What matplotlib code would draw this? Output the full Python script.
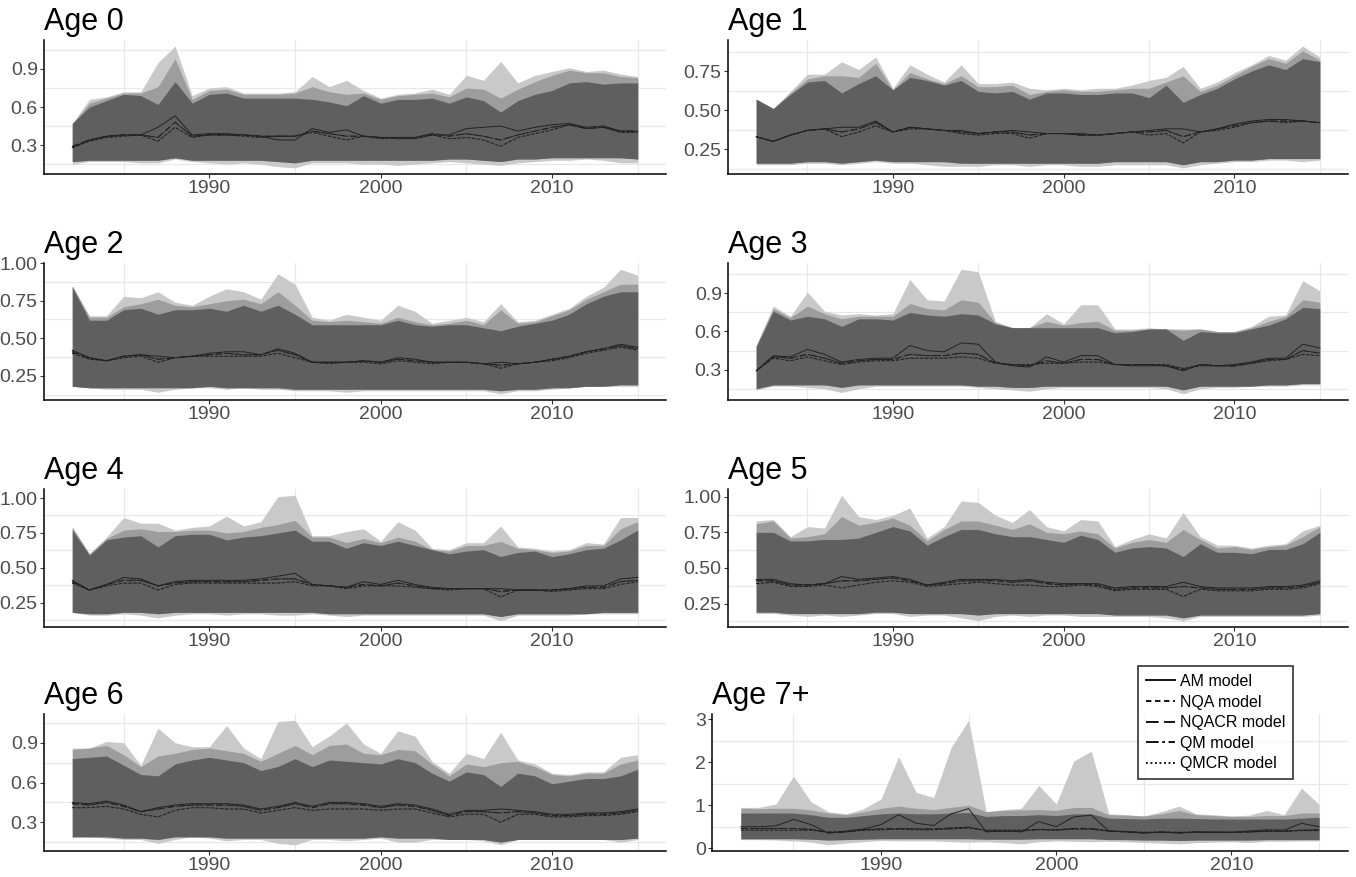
import numpy as np
import matplotlib
matplotlib.use("Agg")
import matplotlib.pyplot as plt
from matplotlib.ticker import FixedLocator, FormatStrFormatter
from matplotlib.lines import Line2D

plt.rcParams['font.family'] = ['Liberation Sans', 'DejaVu Sans']

years = np.arange(1982, 2016)
models = ['AM model', 'NQA model', 'NQACR model', 'QM model', 'QMCR model']
styles = ['-', (0, (3, 2)), (0, (7, 3)), (0, (7, 2, 1.5, 2)), (0, (1, 1.5))]
# which estimated line each model uses
line_src = ['AM', 'NQA', 'QM', 'QM', 'NQA']

# ---- Age 0 ----
age0_hi_light = [0.47, 0.66, 0.68, 0.72, 0.72, 0.95, 1.08, 0.69, 0.75, 0.76, 0.71, 0.71, 0.71, 0.72, 0.84, 0.76, 0.81, 0.73, 0.67, 0.70, 0.71, 0.74, 0.70, 0.85, 0.81, 0.96, 0.79, 0.85, 0.88, 0.91, 0.88, 0.89, 0.86, 0.84]
age0_hi_mid = [0.47, 0.63, 0.67, 0.71, 0.71, 0.76, 0.98, 0.66, 0.73, 0.74, 0.70, 0.70, 0.70, 0.71, 0.76, 0.72, 0.70, 0.71, 0.66, 0.69, 0.70, 0.71, 0.68, 0.75, 0.74, 0.67, 0.74, 0.80, 0.85, 0.89, 0.87, 0.87, 0.84, 0.83]
age0_hi_dark = [0.47, 0.60, 0.65, 0.70, 0.69, 0.62, 0.80, 0.63, 0.70, 0.71, 0.67, 0.67, 0.67, 0.67, 0.66, 0.64, 0.61, 0.69, 0.63, 0.66, 0.66, 0.67, 0.63, 0.68, 0.65, 0.56, 0.65, 0.70, 0.73, 0.79, 0.80, 0.78, 0.79, 0.79]
age0_lo_dark = [0.17, 0.18, 0.18, 0.18, 0.18, 0.18, 0.20, 0.18, 0.18, 0.18, 0.18, 0.18, 0.17, 0.16, 0.18, 0.18, 0.18, 0.18, 0.18, 0.18, 0.18, 0.18, 0.19, 0.19, 0.18, 0.17, 0.19, 0.19, 0.20, 0.20, 0.20, 0.20, 0.20, 0.19]
age0_lo_light = [0.15, 0.17, 0.17, 0.17, 0.16, 0.16, 0.19, 0.17, 0.16, 0.15, 0.16, 0.15, 0.13, 0.12, 0.16, 0.16, 0.16, 0.15, 0.15, 0.14, 0.15, 0.16, 0.17, 0.16, 0.15, 0.14, 0.16, 0.17, 0.18, 0.18, 0.19, 0.18, 0.16, 0.16]
age0_AM = [0.28, 0.34, 0.37, 0.38, 0.38, 0.44, 0.53, 0.38, 0.39, 0.39, 0.38, 0.37, 0.34, 0.34, 0.43, 0.40, 0.42, 0.37, 0.36, 0.35, 0.35, 0.38, 0.38, 0.43, 0.44, 0.45, 0.41, 0.44, 0.46, 0.47, 0.44, 0.45, 0.41, 0.41]
age0_NQA = [0.28, 0.33, 0.36, 0.37, 0.38, 0.33, 0.44, 0.36, 0.38, 0.38, 0.37, 0.36, 0.37, 0.37, 0.40, 0.37, 0.34, 0.37, 0.35, 0.36, 0.36, 0.38, 0.35, 0.36, 0.34, 0.29, 0.36, 0.39, 0.42, 0.46, 0.43, 0.44, 0.40, 0.40]
age0_QM = [0.29, 0.34, 0.37, 0.38, 0.38, 0.36, 0.48, 0.37, 0.38, 0.38, 0.38, 0.37, 0.37, 0.37, 0.41, 0.39, 0.37, 0.37, 0.36, 0.36, 0.36, 0.39, 0.37, 0.39, 0.37, 0.34, 0.38, 0.41, 0.44, 0.46, 0.43, 0.44, 0.41, 0.41]

# ---- Age 1 ----
age1_hi_light = [0.57, 0.51, 0.62, 0.73, 0.73, 0.81, 0.76, 0.84, 0.64, 0.79, 0.73, 0.68, 0.79, 0.67, 0.67, 0.68, 0.64, 0.63, 0.64, 0.63, 0.64, 0.64, 0.66, 0.69, 0.71, 0.78, 0.64, 0.68, 0.74, 0.79, 0.85, 0.82, 0.91, 0.84]
age1_hi_mid = [0.57, 0.51, 0.61, 0.70, 0.72, 0.72, 0.71, 0.80, 0.63, 0.74, 0.70, 0.67, 0.72, 0.65, 0.65, 0.66, 0.60, 0.62, 0.63, 0.62, 0.62, 0.63, 0.64, 0.64, 0.68, 0.72, 0.62, 0.66, 0.72, 0.78, 0.83, 0.80, 0.88, 0.82]
age1_hi_dark = [0.57, 0.51, 0.60, 0.68, 0.69, 0.61, 0.67, 0.72, 0.63, 0.71, 0.69, 0.66, 0.69, 0.62, 0.61, 0.62, 0.57, 0.61, 0.61, 0.60, 0.60, 0.61, 0.61, 0.58, 0.66, 0.55, 0.60, 0.64, 0.70, 0.75, 0.79, 0.76, 0.83, 0.81]
age1_lo_dark = [0.16, 0.16, 0.16, 0.17, 0.17, 0.16, 0.17, 0.18, 0.17, 0.17, 0.17, 0.17, 0.16, 0.16, 0.16, 0.16, 0.16, 0.16, 0.16, 0.16, 0.16, 0.17, 0.17, 0.17, 0.17, 0.15, 0.17, 0.17, 0.18, 0.18, 0.19, 0.19, 0.19, 0.19]
age1_lo_light = [0.15, 0.15, 0.15, 0.16, 0.16, 0.15, 0.16, 0.17, 0.16, 0.16, 0.15, 0.14, 0.14, 0.14, 0.15, 0.15, 0.14, 0.15, 0.15, 0.14, 0.14, 0.15, 0.15, 0.15, 0.15, 0.13, 0.15, 0.16, 0.17, 0.17, 0.18, 0.18, 0.17, 0.18]
age1_AM = [0.33, 0.30, 0.34, 0.37, 0.38, 0.39, 0.39, 0.43, 0.36, 0.39, 0.38, 0.37, 0.37, 0.35, 0.36, 0.37, 0.36, 0.35, 0.35, 0.35, 0.34, 0.35, 0.36, 0.37, 0.38, 0.38, 0.36, 0.38, 0.41, 0.43, 0.44, 0.44, 0.43, 0.42]
age1_NQA = [0.33, 0.30, 0.34, 0.37, 0.38, 0.33, 0.36, 0.40, 0.36, 0.38, 0.38, 0.37, 0.35, 0.34, 0.35, 0.35, 0.32, 0.35, 0.35, 0.34, 0.34, 0.35, 0.36, 0.34, 0.35, 0.29, 0.36, 0.37, 0.39, 0.42, 0.43, 0.42, 0.43, 0.42]
age1_QM = [0.33, 0.30, 0.34, 0.37, 0.38, 0.36, 0.38, 0.42, 0.36, 0.39, 0.38, 0.37, 0.36, 0.35, 0.36, 0.36, 0.34, 0.35, 0.35, 0.34, 0.34, 0.35, 0.36, 0.36, 0.37, 0.33, 0.36, 0.38, 0.40, 0.42, 0.43, 0.43, 0.43, 0.42]

# ---- Age 2 ----
age2_hi_light = [0.85, 0.65, 0.65, 0.78, 0.77, 0.81, 0.74, 0.72, 0.78, 0.83, 0.81, 0.76, 0.93, 0.86, 0.64, 0.62, 0.66, 0.64, 0.62, 0.72, 0.68, 0.60, 0.62, 0.64, 0.61, 0.73, 0.61, 0.62, 0.66, 0.70, 0.78, 0.84, 0.96, 0.92]
age2_hi_mid = [0.85, 0.64, 0.64, 0.71, 0.73, 0.76, 0.72, 0.71, 0.73, 0.75, 0.76, 0.73, 0.81, 0.72, 0.62, 0.61, 0.62, 0.61, 0.60, 0.64, 0.61, 0.59, 0.60, 0.62, 0.59, 0.69, 0.60, 0.61, 0.65, 0.69, 0.76, 0.81, 0.86, 0.86]
age2_hi_dark = [0.84, 0.62, 0.62, 0.69, 0.70, 0.66, 0.69, 0.69, 0.70, 0.68, 0.72, 0.68, 0.72, 0.66, 0.59, 0.59, 0.59, 0.59, 0.59, 0.62, 0.59, 0.58, 0.59, 0.59, 0.57, 0.55, 0.58, 0.60, 0.62, 0.66, 0.73, 0.78, 0.81, 0.81]
age2_lo_dark = [0.18, 0.17, 0.17, 0.17, 0.17, 0.17, 0.17, 0.17, 0.18, 0.17, 0.17, 0.17, 0.17, 0.16, 0.16, 0.16, 0.16, 0.16, 0.16, 0.16, 0.16, 0.16, 0.16, 0.16, 0.16, 0.15, 0.16, 0.16, 0.17, 0.17, 0.18, 0.18, 0.19, 0.19]
age2_lo_light = [0.18, 0.17, 0.16, 0.16, 0.16, 0.14, 0.16, 0.17, 0.17, 0.16, 0.17, 0.16, 0.16, 0.15, 0.15, 0.15, 0.14, 0.15, 0.15, 0.15, 0.15, 0.15, 0.15, 0.15, 0.15, 0.13, 0.15, 0.15, 0.16, 0.17, 0.18, 0.18, 0.18, 0.18]
age2_AM = [0.42, 0.37, 0.35, 0.38, 0.39, 0.38, 0.37, 0.38, 0.40, 0.41, 0.41, 0.39, 0.43, 0.40, 0.34, 0.34, 0.34, 0.35, 0.34, 0.37, 0.36, 0.34, 0.34, 0.34, 0.33, 0.34, 0.33, 0.34, 0.36, 0.38, 0.41, 0.43, 0.46, 0.44]
age2_NQA = [0.40, 0.36, 0.35, 0.37, 0.38, 0.34, 0.37, 0.38, 0.38, 0.38, 0.38, 0.38, 0.40, 0.37, 0.34, 0.33, 0.34, 0.34, 0.33, 0.35, 0.34, 0.33, 0.34, 0.34, 0.33, 0.30, 0.33, 0.34, 0.35, 0.37, 0.40, 0.42, 0.44, 0.42]
age2_QM = [0.41, 0.37, 0.35, 0.38, 0.39, 0.36, 0.37, 0.38, 0.39, 0.40, 0.39, 0.39, 0.42, 0.39, 0.34, 0.34, 0.34, 0.35, 0.34, 0.36, 0.35, 0.34, 0.34, 0.34, 0.33, 0.32, 0.33, 0.34, 0.36, 0.38, 0.41, 0.43, 0.45, 0.43]

# ---- Age 3 ----
age3_hi_light = [0.49, 0.80, 0.72, 0.91, 0.76, 0.73, 0.74, 0.73, 0.74, 1.01, 0.85, 0.84, 1.09, 1.07, 0.68, 0.63, 0.63, 0.74, 0.66, 0.81, 0.81, 0.62, 0.62, 0.63, 0.62, 0.62, 0.62, 0.60, 0.60, 0.64, 0.72, 0.73, 1.00, 0.92]
age3_hi_mid = [0.49, 0.78, 0.71, 0.80, 0.74, 0.70, 0.72, 0.72, 0.72, 0.82, 0.78, 0.77, 0.85, 0.83, 0.67, 0.63, 0.63, 0.68, 0.65, 0.67, 0.68, 0.61, 0.61, 0.62, 0.62, 0.61, 0.62, 0.60, 0.60, 0.63, 0.68, 0.72, 0.85, 0.83]
age3_hi_dark = [0.48, 0.76, 0.69, 0.72, 0.70, 0.64, 0.70, 0.70, 0.69, 0.75, 0.73, 0.72, 0.74, 0.73, 0.66, 0.63, 0.63, 0.63, 0.63, 0.63, 0.63, 0.59, 0.60, 0.62, 0.62, 0.53, 0.60, 0.59, 0.59, 0.62, 0.65, 0.70, 0.79, 0.78]
age3_lo_dark = [0.15, 0.18, 0.18, 0.18, 0.18, 0.16, 0.18, 0.18, 0.18, 0.18, 0.18, 0.18, 0.18, 0.17, 0.17, 0.16, 0.16, 0.17, 0.17, 0.17, 0.17, 0.17, 0.17, 0.17, 0.17, 0.14, 0.17, 0.17, 0.17, 0.17, 0.18, 0.18, 0.19, 0.19]
age3_lo_light = [0.14, 0.17, 0.17, 0.16, 0.15, 0.12, 0.15, 0.17, 0.17, 0.17, 0.17, 0.17, 0.17, 0.16, 0.15, 0.14, 0.13, 0.15, 0.16, 0.16, 0.16, 0.16, 0.16, 0.16, 0.15, 0.11, 0.15, 0.16, 0.16, 0.17, 0.17, 0.17, 0.18, 0.18]
age3_AM = [0.29, 0.41, 0.40, 0.46, 0.42, 0.36, 0.38, 0.39, 0.39, 0.49, 0.45, 0.44, 0.51, 0.50, 0.36, 0.33, 0.32, 0.40, 0.36, 0.41, 0.41, 0.34, 0.33, 0.33, 0.33, 0.29, 0.34, 0.33, 0.34, 0.36, 0.39, 0.39, 0.50, 0.47]
age3_NQA = [0.29, 0.39, 0.37, 0.40, 0.37, 0.34, 0.36, 0.37, 0.37, 0.39, 0.39, 0.39, 0.40, 0.39, 0.35, 0.34, 0.34, 0.35, 0.35, 0.36, 0.36, 0.34, 0.34, 0.34, 0.34, 0.31, 0.33, 0.33, 0.33, 0.35, 0.37, 0.38, 0.42, 0.41]
age3_QM = [0.29, 0.40, 0.39, 0.42, 0.39, 0.35, 0.37, 0.38, 0.38, 0.42, 0.41, 0.41, 0.43, 0.42, 0.35, 0.34, 0.33, 0.37, 0.35, 0.38, 0.38, 0.34, 0.34, 0.34, 0.33, 0.30, 0.34, 0.33, 0.33, 0.35, 0.38, 0.38, 0.45, 0.43]

# ---- Age 4 ----
age4_hi_light = [0.79, 0.60, 0.72, 0.86, 0.82, 0.82, 0.77, 0.79, 0.80, 0.87, 0.80, 0.83, 1.01, 1.02, 0.73, 0.73, 0.76, 0.78, 0.69, 0.83, 0.77, 0.64, 0.63, 0.68, 0.68, 0.80, 0.65, 0.64, 0.62, 0.63, 0.68, 0.67, 0.86, 0.86]
age4_hi_mid = [0.79, 0.60, 0.71, 0.77, 0.78, 0.76, 0.76, 0.77, 0.77, 0.75, 0.76, 0.79, 0.81, 0.84, 0.72, 0.72, 0.68, 0.71, 0.68, 0.72, 0.69, 0.63, 0.62, 0.66, 0.66, 0.69, 0.64, 0.63, 0.61, 0.62, 0.66, 0.66, 0.78, 0.83]
age4_hi_dark = [0.77, 0.59, 0.70, 0.72, 0.73, 0.65, 0.73, 0.74, 0.74, 0.70, 0.72, 0.73, 0.75, 0.77, 0.69, 0.69, 0.64, 0.68, 0.66, 0.69, 0.66, 0.63, 0.60, 0.62, 0.63, 0.58, 0.61, 0.62, 0.58, 0.60, 0.63, 0.64, 0.70, 0.77]
age4_lo_dark = [0.18, 0.17, 0.17, 0.18, 0.18, 0.17, 0.18, 0.18, 0.18, 0.18, 0.18, 0.18, 0.18, 0.18, 0.18, 0.17, 0.17, 0.17, 0.17, 0.17, 0.17, 0.17, 0.17, 0.17, 0.17, 0.15, 0.17, 0.17, 0.17, 0.17, 0.17, 0.18, 0.18, 0.18]
age4_lo_light = [0.18, 0.16, 0.16, 0.17, 0.16, 0.14, 0.16, 0.17, 0.17, 0.16, 0.17, 0.17, 0.16, 0.16, 0.17, 0.16, 0.15, 0.16, 0.16, 0.16, 0.16, 0.16, 0.16, 0.16, 0.16, 0.12, 0.16, 0.16, 0.16, 0.16, 0.17, 0.17, 0.17, 0.17]
age4_AM = [0.41, 0.34, 0.38, 0.43, 0.42, 0.37, 0.40, 0.41, 0.41, 0.41, 0.41, 0.42, 0.44, 0.46, 0.38, 0.37, 0.36, 0.40, 0.38, 0.41, 0.38, 0.36, 0.35, 0.35, 0.35, 0.35, 0.34, 0.34, 0.34, 0.35, 0.37, 0.37, 0.42, 0.43]
age4_NQA = [0.39, 0.34, 0.37, 0.39, 0.39, 0.34, 0.38, 0.39, 0.39, 0.39, 0.39, 0.39, 0.39, 0.40, 0.37, 0.37, 0.35, 0.37, 0.37, 0.37, 0.36, 0.35, 0.34, 0.35, 0.35, 0.29, 0.34, 0.34, 0.33, 0.34, 0.35, 0.35, 0.38, 0.40]
age4_QM = [0.40, 0.34, 0.38, 0.41, 0.41, 0.37, 0.39, 0.40, 0.40, 0.40, 0.40, 0.41, 0.42, 0.42, 0.38, 0.37, 0.36, 0.38, 0.37, 0.39, 0.37, 0.35, 0.35, 0.35, 0.35, 0.33, 0.34, 0.34, 0.34, 0.35, 0.36, 0.36, 0.40, 0.41]

# ---- Age 5 ----
age5_hi_light = [0.83, 0.84, 0.72, 0.79, 0.78, 1.01, 0.86, 0.84, 0.87, 0.92, 0.71, 0.79, 0.97, 0.96, 0.87, 0.82, 0.91, 0.79, 0.76, 0.84, 0.83, 0.65, 0.70, 0.74, 0.71, 0.89, 0.72, 0.66, 0.66, 0.64, 0.66, 0.67, 0.76, 0.80]
age5_hi_mid = [0.81, 0.83, 0.71, 0.72, 0.74, 0.86, 0.80, 0.82, 0.85, 0.80, 0.69, 0.77, 0.83, 0.83, 0.80, 0.77, 0.81, 0.75, 0.74, 0.76, 0.74, 0.64, 0.68, 0.70, 0.68, 0.77, 0.70, 0.64, 0.65, 0.63, 0.65, 0.66, 0.72, 0.79]
age5_hi_dark = [0.75, 0.75, 0.69, 0.69, 0.70, 0.70, 0.71, 0.75, 0.79, 0.76, 0.66, 0.72, 0.77, 0.77, 0.74, 0.72, 0.72, 0.70, 0.68, 0.73, 0.70, 0.61, 0.64, 0.65, 0.64, 0.58, 0.67, 0.61, 0.61, 0.60, 0.63, 0.63, 0.67, 0.75]
age5_lo_dark = [0.19, 0.19, 0.18, 0.18, 0.18, 0.18, 0.18, 0.19, 0.19, 0.18, 0.18, 0.18, 0.18, 0.17, 0.18, 0.18, 0.18, 0.18, 0.18, 0.18, 0.18, 0.17, 0.17, 0.17, 0.17, 0.15, 0.17, 0.17, 0.17, 0.17, 0.17, 0.17, 0.17, 0.18]
age5_lo_light = [0.18, 0.18, 0.17, 0.16, 0.17, 0.16, 0.17, 0.18, 0.18, 0.16, 0.17, 0.17, 0.15, 0.13, 0.16, 0.17, 0.16, 0.17, 0.17, 0.16, 0.16, 0.16, 0.16, 0.16, 0.15, 0.13, 0.16, 0.16, 0.16, 0.16, 0.16, 0.16, 0.16, 0.17]
age5_AM = [0.42, 0.42, 0.39, 0.38, 0.39, 0.44, 0.42, 0.43, 0.44, 0.42, 0.38, 0.40, 0.42, 0.42, 0.42, 0.41, 0.42, 0.40, 0.39, 0.39, 0.39, 0.36, 0.37, 0.37, 0.37, 0.40, 0.37, 0.36, 0.36, 0.36, 0.37, 0.37, 0.38, 0.41]
age5_NQA = [0.39, 0.40, 0.37, 0.37, 0.38, 0.36, 0.38, 0.40, 0.41, 0.40, 0.37, 0.38, 0.39, 0.40, 0.39, 0.38, 0.38, 0.37, 0.37, 0.38, 0.37, 0.34, 0.35, 0.35, 0.35, 0.30, 0.35, 0.34, 0.34, 0.34, 0.35, 0.35, 0.36, 0.39]
age5_QM = [0.41, 0.41, 0.38, 0.38, 0.39, 0.41, 0.41, 0.42, 0.43, 0.41, 0.38, 0.39, 0.41, 0.41, 0.41, 0.40, 0.41, 0.39, 0.38, 0.39, 0.38, 0.35, 0.36, 0.36, 0.36, 0.37, 0.36, 0.35, 0.35, 0.35, 0.36, 0.36, 0.37, 0.40]

# ---- Age 6 ----
age6_hi_light = [0.86, 0.86, 0.91, 0.90, 0.73, 1.01, 0.90, 0.87, 0.87, 1.03, 0.86, 0.78, 1.06, 1.07, 0.87, 0.95, 1.05, 0.89, 0.82, 0.99, 0.95, 0.76, 0.67, 0.82, 0.78, 0.98, 0.77, 0.74, 0.67, 0.66, 0.68, 0.68, 0.79, 0.81]
age6_hi_mid = [0.85, 0.86, 0.88, 0.81, 0.72, 0.80, 0.82, 0.85, 0.86, 0.84, 0.82, 0.76, 0.82, 0.88, 0.81, 0.88, 0.89, 0.82, 0.81, 0.85, 0.84, 0.74, 0.65, 0.74, 0.72, 0.75, 0.76, 0.72, 0.66, 0.65, 0.67, 0.67, 0.74, 0.77]
age6_hi_dark = [0.78, 0.79, 0.80, 0.73, 0.66, 0.65, 0.74, 0.77, 0.79, 0.77, 0.75, 0.69, 0.72, 0.78, 0.72, 0.77, 0.76, 0.75, 0.74, 0.78, 0.75, 0.67, 0.61, 0.68, 0.66, 0.57, 0.67, 0.65, 0.59, 0.61, 0.63, 0.63, 0.65, 0.70]
age6_lo_dark = [0.19, 0.19, 0.19, 0.18, 0.18, 0.17, 0.19, 0.19, 0.19, 0.18, 0.18, 0.18, 0.18, 0.18, 0.18, 0.18, 0.18, 0.18, 0.19, 0.18, 0.18, 0.18, 0.17, 0.17, 0.17, 0.15, 0.17, 0.17, 0.17, 0.17, 0.17, 0.17, 0.17, 0.18]
age6_lo_light = [0.19, 0.19, 0.18, 0.17, 0.17, 0.14, 0.17, 0.19, 0.18, 0.16, 0.17, 0.17, 0.14, 0.13, 0.17, 0.17, 0.16, 0.17, 0.18, 0.15, 0.15, 0.17, 0.17, 0.17, 0.16, 0.13, 0.17, 0.17, 0.17, 0.17, 0.17, 0.17, 0.15, 0.17]
age6_AM = [0.45, 0.44, 0.46, 0.43, 0.38, 0.41, 0.43, 0.44, 0.44, 0.44, 0.43, 0.40, 0.42, 0.45, 0.42, 0.45, 0.45, 0.44, 0.42, 0.44, 0.43, 0.40, 0.36, 0.39, 0.39, 0.40, 0.39, 0.38, 0.36, 0.36, 0.37, 0.37, 0.38, 0.40]
age6_NQA = [0.41, 0.41, 0.42, 0.40, 0.36, 0.34, 0.39, 0.41, 0.41, 0.40, 0.40, 0.37, 0.39, 0.41, 0.39, 0.40, 0.40, 0.40, 0.39, 0.40, 0.40, 0.37, 0.34, 0.36, 0.36, 0.30, 0.36, 0.36, 0.34, 0.34, 0.35, 0.35, 0.36, 0.38]
age6_QM = [0.44, 0.43, 0.45, 0.42, 0.38, 0.40, 0.42, 0.43, 0.43, 0.43, 0.42, 0.39, 0.41, 0.44, 0.41, 0.44, 0.44, 0.43, 0.41, 0.43, 0.42, 0.39, 0.35, 0.38, 0.38, 0.37, 0.38, 0.37, 0.35, 0.35, 0.36, 0.36, 0.37, 0.39]

# ---- Age 7+ ----
age7_hi_light = [0.95, 0.95, 1.03, 1.68, 1.08, 0.85, 0.80, 0.92, 1.15, 2.13, 1.30, 1.18, 2.35, 2.98, 0.85, 0.90, 0.93, 1.46, 1.03, 2.03, 2.26, 0.80, 0.78, 0.75, 0.85, 0.98, 0.80, 0.78, 0.75, 0.77, 0.88, 0.78, 1.40, 1.02]
age7_hi_mid = [0.93, 0.92, 0.93, 0.93, 0.89, 0.82, 0.78, 0.85, 0.93, 0.98, 0.93, 0.90, 0.95, 1.00, 0.85, 0.88, 0.89, 0.90, 0.88, 0.95, 0.95, 0.78, 0.77, 0.75, 0.80, 0.88, 0.78, 0.76, 0.74, 0.74, 0.76, 0.76, 0.82, 0.82]
age7_hi_dark = [0.82, 0.82, 0.82, 0.82, 0.78, 0.72, 0.72, 0.76, 0.80, 0.82, 0.80, 0.80, 0.82, 0.83, 0.74, 0.76, 0.76, 0.78, 0.76, 0.80, 0.80, 0.70, 0.69, 0.68, 0.70, 0.70, 0.69, 0.68, 0.68, 0.68, 0.68, 0.68, 0.70, 0.72]
age7_lo_dark = [0.22, 0.22, 0.22, 0.22, 0.21, 0.19, 0.20, 0.21, 0.22, 0.22, 0.22, 0.22, 0.22, 0.22, 0.21, 0.21, 0.21, 0.22, 0.22, 0.22, 0.22, 0.20, 0.20, 0.19, 0.19, 0.18, 0.19, 0.19, 0.19, 0.19, 0.20, 0.20, 0.20, 0.20]
age7_lo_light = [0.20, 0.20, 0.19, 0.17, 0.14, 0.08, 0.12, 0.15, 0.18, 0.17, 0.17, 0.17, 0.15, 0.14, 0.15, 0.13, 0.10, 0.15, 0.17, 0.16, 0.15, 0.16, 0.15, 0.13, 0.12, 0.10, 0.13, 0.14, 0.15, 0.13, 0.16, 0.16, 0.17, 0.17]
age7_AM = [0.50, 0.50, 0.52, 0.67, 0.55, 0.35, 0.40, 0.45, 0.55, 0.78, 0.58, 0.53, 0.80, 0.92, 0.38, 0.40, 0.38, 0.62, 0.50, 0.73, 0.77, 0.40, 0.38, 0.35, 0.38, 0.35, 0.38, 0.37, 0.37, 0.40, 0.43, 0.42, 0.58, 0.50]
age7_NQA = [0.42, 0.42, 0.42, 0.42, 0.42, 0.38, 0.38, 0.42, 0.43, 0.44, 0.43, 0.43, 0.45, 0.47, 0.42, 0.42, 0.42, 0.43, 0.42, 0.44, 0.44, 0.40, 0.39, 0.37, 0.38, 0.37, 0.38, 0.38, 0.37, 0.38, 0.39, 0.39, 0.41, 0.41]
age7_QM = [0.46, 0.46, 0.46, 0.46, 0.44, 0.36, 0.38, 0.43, 0.45, 0.46, 0.45, 0.45, 0.47, 0.49, 0.40, 0.40, 0.40, 0.44, 0.43, 0.46, 0.46, 0.40, 0.38, 0.36, 0.37, 0.36, 0.37, 0.37, 0.37, 0.38, 0.40, 0.40, 0.42, 0.43]

titles = ['Age 0', 'Age 1', 'Age 2', 'Age 3', 'Age 4', 'Age 5', 'Age 6', 'Age 7+']
panel_data = [
    (age0_hi_light, age0_hi_mid, age0_hi_dark, age0_lo_dark, age0_lo_light, age0_AM, age0_NQA, age0_QM),
    (age1_hi_light, age1_hi_mid, age1_hi_dark, age1_lo_dark, age1_lo_light, age1_AM, age1_NQA, age1_QM),
    (age2_hi_light, age2_hi_mid, age2_hi_dark, age2_lo_dark, age2_lo_light, age2_AM, age2_NQA, age2_QM),
    (age3_hi_light, age3_hi_mid, age3_hi_dark, age3_lo_dark, age3_lo_light, age3_AM, age3_NQA, age3_QM),
    (age4_hi_light, age4_hi_mid, age4_hi_dark, age4_lo_dark, age4_lo_light, age4_AM, age4_NQA, age4_QM),
    (age5_hi_light, age5_hi_mid, age5_hi_dark, age5_lo_dark, age5_lo_light, age5_AM, age5_NQA, age5_QM),
    (age6_hi_light, age6_hi_mid, age6_hi_dark, age6_lo_dark, age6_lo_light, age6_AM, age6_NQA, age6_QM),
    (age7_hi_light, age7_hi_mid, age7_hi_dark, age7_lo_dark, age7_lo_light, age7_AM, age7_NQA, age7_QM),
]
yticks = [[0.3, 0.6, 0.9], [0.25, 0.5, 0.75], [0.25, 0.5, 0.75, 1.0], [0.3, 0.6, 0.9],
          [0.25, 0.5, 0.75, 1.0], [0.25, 0.5, 0.75, 1.0], [0.3, 0.6, 0.9], [0, 1, 2, 3]]
yfmt = ['%.1f', '%.2f', '%.2f', '%.1f', '%.2f', '%.2f', '%.1f', '%d']
xticks = [1990, 2000, 2010]
xminor = [1985, 1995, 2005, 2015]

W, H = 1356, 877
# panel boxes in pixels: left, top, right, bottom
boxes = [(44, 40, 666, 174), (728, 40, 1348, 174),
         (44, 263, 666, 400), (728, 263, 1348, 400),
         (44, 489, 666, 627), (728, 489, 1348, 627),
         (44, 714, 666, 851), (712, 714, 1348, 851)]

fig = plt.figure(figsize=(W / 100, H / 100), dpi=100)

for i, (title, d) in enumerate(zip(titles, panel_data)):
    x0, y0, x1, y1 = boxes[i]
    ax = fig.add_axes([x0 / W, 1 - y1 / H, (x1 - x0) / W, (y1 - y0) / H])
    hi_l, hi_m, hi_d, lo_d, lo_l, am, nqa, qm = d
    lines = {'AM': am, 'NQA': nqa, 'QM': qm}

    ax.fill_between(years, lo_l, hi_l, color='#c9c9c9', lw=0, zorder=2)
    ax.fill_between(years, lo_d, hi_m, color='#9d9d9d', lw=0, zorder=3)
    ax.fill_between(years, lo_d, hi_d, color='#5f5f5f', lw=0, zorder=4)
    for m, ls, src in zip(models, styles, line_src):
        ax.plot(years, lines[src], color='#222222', lw=0.7, ls=ls, zorder=5)

    lo = min(lo_l)
    hi = max(hi_l)
    pad = (hi - lo) * 0.05
    ax.set_ylim(lo - pad, hi + pad)
    ax.set_xlim(1982 - 33 * 0.05, 2015 + 33 * 0.05)

    ax.set_xticks(xticks)
    ax.xaxis.set_minor_locator(FixedLocator(xminor))
    yt = yticks[i]
    ax.set_yticks(yt)
    step = yt[1] - yt[0]
    ax.yaxis.set_minor_locator(FixedLocator([yt[0] - step / 2] + [v + step / 2 for v in yt]))
    ax.yaxis.set_major_formatter(FormatStrFormatter(yfmt[i]))
    ax.grid(False, which='major')
    ax.grid(True, which='minor', color='#e8e8e8', lw=0.9, zorder=0)
    ax.set_axisbelow(True)

    for s in ['top', 'right']:
        ax.spines[s].set_visible(False)
    for s in ['left', 'bottom']:
        ax.spines[s].set_color('black')
        ax.spines[s].set_linewidth(1.1)
    ax.tick_params(which='major', length=3, width=0.8, color='#333333',
                   labelsize=14, labelcolor='#4d4d4d', pad=1.5)
    ax.tick_params(which='minor', length=0)
    ax.set_title(title, loc='left', fontsize=22, pad=7, color='black')

handles = [Line2D([0], [0], color='black', lw=1.3, ls=ls) for ls in styles]
leg = fig.legend(handles, models, loc='upper left',
                 bbox_to_anchor=(1130 / W, 1 - 658 / H), fontsize=11.5,
                 frameon=True, fancybox=False, edgecolor='black',
                 handlelength=1.8, handletextpad=0.3, labelspacing=0.35,
                 borderpad=0.5)
leg.get_frame().set_linewidth(1.2)

fig.savefig('out.png', dpi=100)
